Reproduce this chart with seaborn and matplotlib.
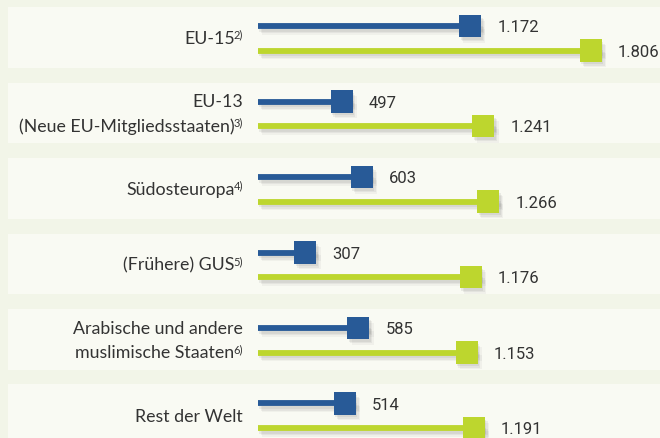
import matplotlib
matplotlib.use("Agg")
import matplotlib.pyplot as plt
import matplotlib.patheffects as pe
from matplotlib.transforms import ScaledTranslation
import seaborn as sns
import pandas as pd

regions = ["EU-15", "EU-13\n(Neue EU-Mitgliedsstaaten)", "Südosteuropa",
           "(Frühere) GUS", "Arabische und andere\nmuslimische Staaten",
           "Rest der Welt"]
footnotes = ["2)", "3)", "4)", "5)", "6)", ""]
values_blue = [1172, 497, 603, 307, 585, 514]
values_lime = [1806, 1241, 1266, 1176, 1153, 1191]

BLUE = "#285a97"
LIME = "#bdd62e"
TEXT = "#333333"
BG = "#f2f5e8"
BAND = "#f9faf3"

sns.set_style("white")
plt.rcParams["font.family"] = ["Lato", "DejaVu Sans"]

fig = plt.figure(figsize=(6.6, 4.39), dpi=100, facecolor=BG)
ax = fig.add_axes([0, 0, 1, 1])
ax.set_facecolor(BG)

# x=0 sits at 258px, 0.1905 px per unit
px_per_unit = 0.1905
xlim = (-258 / px_per_unit, (660 - 258) / px_per_unit)
ax.set_xlim(*xlim)
ax.set_ylim(439, 0)
ax.axis("off")

pitch = 75.5
y_blue = [27 + pitch * i for i in range(len(regions))]
y_lime = [y + 24.5 for y in y_blue]

for yb, yl in zip(y_blue, y_lime):
    ax.axhspan(yb - 19, yl + 17, xmin=8 / 660, xmax=1, color=BAND, lw=0, zorder=0)

# soft drop shadow made of a few faint layers
shadow_line = [pe.SimpleLineShadow(offset=(o, -o - 1), shadow_color="#7a7a7a", alpha=a)
               for o, a in [(3, 0.07), (2, 0.1), (1, 0.12)]] + [pe.Normal()]
shadow_patch = [pe.SimplePatchShadow(offset=(o, -o - 1), shadow_rgbFace="#7a7a7a", alpha=a)
                for o, a in [(3, 0.07), (2, 0.1), (1, 0.12)]] + [pe.Normal()]

ax.hlines(y_blue, 0, values_blue, color=BLUE, lw=4.2, zorder=2, path_effects=shadow_line)
ax.hlines(y_lime, 0, values_lime, color=LIME, lw=4.2, zorder=2, path_effects=shadow_line)

df = pd.DataFrame({
    "value": values_blue + values_lime,
    "y": y_blue + y_lime,
    "series": ["blue"] * len(values_blue) + ["lime"] * len(values_lime),
})
# square's right edge sits on the value
sq_shift = ax.transData + ScaledTranslation(-11 / 100, 0, fig.dpi_scale_trans)
sns.scatterplot(data=df, x="value", y="y", hue="series",
                palette={"blue": BLUE, "lime": LIME}, marker="s", s=251,
                linewidth=0, legend=False, ax=ax, zorder=3,
                transform=sq_shift, path_effects=shadow_patch)
ax.set_xlim(*xlim)
ax.set_ylim(439, 0)


def fmt(v):
    return f"{v:,}".replace(",", ".")


for v, y in zip(df["value"], df["y"]):
    ax.annotate(fmt(v), xy=(v, y + 1), xytext=(11.5, 0), textcoords="offset points",
                ha="left", va="center", fontsize=12, color=TEXT, family="Roboto")

renderer = fig.canvas.get_renderer()
x_label = -15 / px_per_unit


def label_line(text, y, fn):
    shift = 0
    if fn:
        s = ax.text(x_label, y - 4, fn, ha="right", va="center",
                    fontsize=8, color=TEXT)
        shift = s.get_window_extent(renderer).width - 1
    ax.annotate(text, xy=(x_label, y), xytext=(-shift * 0.72, 0),
                textcoords="offset points", ha="right", va="center",
                fontsize=12.8, color=TEXT)


for name, fn, yb, yl in zip(regions, footnotes, y_blue, y_lime):
    lines = name.split("\n")
    if len(lines) == 1:
        label_line(lines[0], (yb + yl) / 2, fn)
    else:
        label_line(lines[0], yb, "")
        label_line(lines[1], yl, fn)

fig.savefig("out.png", dpi=100, facecolor=BG)
